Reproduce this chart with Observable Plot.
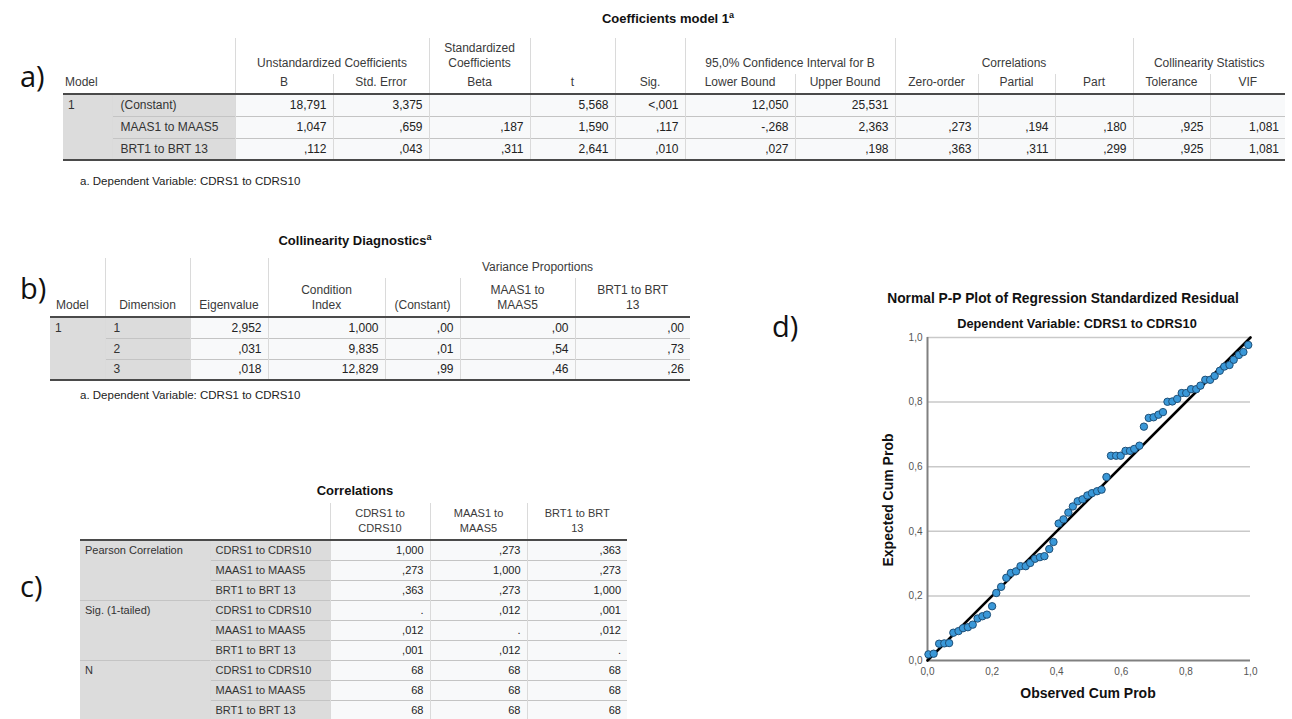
<!DOCTYPE html>
<html>
<head>
<meta charset="utf-8">
<script src="https://cdn.jsdelivr.net/npm/d3@7"></script>
<script src="https://cdn.jsdelivr.net/npm/@observablehq/plot@0.6"></script>
<style>
  html, body { margin: 0; padding: 0; background: #fff; }
  body { width: 1292px; height: 719px; position: relative; overflow: hidden;
         font-family: "Liberation Sans", Arial, sans-serif; color: #222; }
  .abs { position: absolute; white-space: nowrap; }
  .ctr { transform: translate(-50%, -50%); }
  .panel { font-family: "Open Sans", "Liberation Sans", sans-serif; font-size: 29px; color: #111; }
  .ttl { font-weight: bold; font-size: 13px; color: #111; }
  .ttl sup { font-size: 9px; }
  .foot { font-size: 11.5px; color: #222; }
  table.spss { border-collapse: collapse; table-layout: fixed; font-size: 12px; color: #222; }
  table.spss th { font-weight: normal; color: #3a3a3a; vertical-align: bottom; text-align: center;
                  padding: 0 2px 3px; border-left: 1px solid #dadada; line-height: 15px; }
  table.spss th.first { border-left: none; text-align: left; }
  table.spss td { text-align: right; padding: 0 6px; border-left: 1px solid #dadada;
                  border-top: 1px solid #c4c4c4; background: #f8f9fa; white-space: nowrap; }
  table.spss td.lab { background: #dcdcdc; text-align: left; color: #333; padding-left: 8px; }
  table.spss td.grp { background: #dcdcdc; text-align: left; vertical-align: top; border-left: none;
                      color: #333; padding-left: 5px; padding-top: 3px; }
  table.spss tbody tr.top td { border-top: 2px solid #4a4a4a; }
  table.spss tbody tr.bottom td, table.spss td.grp.last { border-bottom: 2px solid #4a4a4a; }
  table.small { font-size: 11px; }
  .plab { font-weight: bold; font-size: 14px; color: #111; }
</style>
</head>
<body>
<div id="root"></div>
<script>
// ---------- Coefficients model 1 ----------
const coefPredictors = ["(Constant)", "MAAS1 to MAAS5", "BRT1 to BRT 13"];
const coefB          = [18.791, 1.047, 0.112];
const coefStdError   = [3.375, 0.659, 0.043];
const coefBeta       = [null, 0.187, 0.311];
const coefT          = [5.568, 1.590, 2.641];
const coefSig        = ["<,001", 0.117, 0.010];
const coefLower      = [12.050, -0.268, 0.027];
const coefUpper      = [25.531, 2.363, 0.198];
const coefZeroOrder  = [null, 0.273, 0.363];
const coefPartial    = [null, 0.194, 0.311];
const coefPart       = [null, 0.180, 0.299];
const coefTolerance  = [null, 0.925, 0.925];
const coefVIF        = [null, 1.081, 1.081];

// ---------- Collinearity Diagnostics ----------
const diagDimension   = [1, 2, 3];
const diagEigenvalue  = [2.952, 0.031, 0.018];
const diagCondition   = [1.000, 9.835, 12.829];
const diagVPConstant  = [0.00, 0.01, 0.99];
const diagVPMaas      = [0.00, 0.54, 0.46];
const diagVPBrt       = [0.00, 0.73, 0.26];

// ---------- Correlations ----------
const corrVariables = ["CDRS1 to CDRS10", "MAAS1 to MAAS5", "BRT1 to BRT 13"];
const corrHeaders   = [["CDRS1 to", "CDRS10"], ["MAAS1 to", "MAAS5"], ["BRT1 to BRT", "13"]];
const corrStats     = ["Pearson Correlation", "Sig. (1-tailed)", "N"];
const corrPearson   = [[1.000, 0.273, 0.363], [0.273, 1.000, 0.273], [0.363, 0.273, 1.000]];
const corrSig       = [[".", 0.012, 0.001], [0.012, ".", 0.012], [0.001, 0.012, "."]];
const corrN         = [[68, 68, 68], [68, 68, 68], [68, 68, 68]];

// ---------- Normal P-P plot of standardized residuals ----------
const ppObserved = [0.003, 0.019, 0.036, 0.052, 0.067, 0.080, 0.096, 0.110, 0.125, 0.140,
                    0.155, 0.170, 0.184, 0.200, 0.213, 0.228, 0.244, 0.258, 0.274, 0.288,
                    0.304, 0.318, 0.333, 0.348, 0.362, 0.377, 0.390, 0.406, 0.421, 0.436,
                    0.450, 0.465, 0.480, 0.495, 0.509, 0.525, 0.539, 0.554, 0.568, 0.584,
                    0.598, 0.613, 0.627, 0.640, 0.656, 0.670, 0.685, 0.700, 0.715, 0.729,
                    0.743, 0.758, 0.773, 0.787, 0.801, 0.816, 0.832, 0.845, 0.860, 0.875,
                    0.889, 0.905, 0.919, 0.935, 0.948, 0.964, 0.978, 0.993];
const ppExpected = [0.019, 0.021, 0.052, 0.053, 0.054, 0.086, 0.091, 0.100, 0.103, 0.111,
                    0.130, 0.137, 0.142, 0.168, 0.209, 0.228, 0.256, 0.271, 0.276, 0.292,
                    0.292, 0.302, 0.315, 0.320, 0.323, 0.345, 0.367, 0.424, 0.437, 0.458,
                    0.477, 0.493, 0.499, 0.511, 0.518, 0.524, 0.529, 0.568, 0.634, 0.634,
                    0.634, 0.649, 0.649, 0.655, 0.665, 0.724, 0.751, 0.753, 0.761, 0.769,
                    0.801, 0.802, 0.810, 0.828, 0.828, 0.840, 0.840, 0.851, 0.869, 0.869,
                    0.881, 0.897, 0.910, 0.915, 0.931, 0.946, 0.955, 0.977];
const ppTicks = [0, 0.2, 0.4, 0.6, 0.8, 1.0];
const ppReference = [{observed: 0, expected: 0}, {observed: 1, expected: 1}];

// SPSS-style number text: comma decimal mark, no leading zero
const spss = (v, d = 3) => v == null ? "" : typeof v === "string" ? v
  : v.toFixed(d).replace(/^(-?)0\./, "$1.").replace(".", ",");
const tickText = v => v.toFixed(1).replace(".", ",");

const root = document.getElementById("root");
function place(html, css) {
  const el = document.createElement("div");
  el.className = "abs " + (css.cls || "");
  el.innerHTML = html;
  Object.assign(el.style, css.style || {});
  root.appendChild(el);
  return el;
}
const colgroup = ws => "<colgroup>" + ws.map(w => `<col style="width:${w}px">`).join("") + "</colgroup>";

// ---------- a) Coefficients ----------
place("a)", {cls: "panel", style: {left: "20px", top: "56px"}});
place("Coefficients model 1<sup>a</sup>", {cls: "ttl ctr", style: {left: "668px", top: "18px"}});
{
  const widths = [49, 123, 98, 96, 101, 85, 70, 110, 100, 83, 77, 78, 77, 75];
  const cols = [coefB, coefStdError, coefBeta, coefT, coefSig, coefLower, coefUpper,
                coefZeroOrder, coefPartial, coefPart, coefTolerance, coefVIF];
  let h = `<table class="spss" style="width:${d3.sum(widths)}px">` + colgroup(widths);
  h += `<thead><tr style="height:36px">
    <th class="first" colspan="2" rowspan="2" style="padding-left:2px">Model</th>
    <th colspan="2">Unstandardized Coefficients</th>
    <th>Standardized<br>Coefficients</th>
    <th rowspan="2">t</th><th rowspan="2">Sig.</th>
    <th colspan="2">95,0% Confidence Interval for B</th>
    <th colspan="3">Correlations</th>
    <th colspan="2">Collinearity Statistics</th></tr>
    <tr style="height:20px"><th>B</th><th>Std. Error</th><th>Beta</th><th>Lower Bound</th><th>Upper Bound</th>
    <th>Zero-order</th><th>Partial</th><th>Part</th><th>Tolerance</th><th>VIF</th></tr></thead><tbody>`;
  coefPredictors.forEach((p, i) => {
    const cls = i === 0 ? "top" : i === coefPredictors.length - 1 ? "bottom" : "";
    h += `<tr class="${cls}" style="height:22px">`;
    if (i === 0) h += `<td class="grp last" rowspan="${coefPredictors.length}">1</td>`;
    h += `<td class="lab">${p}</td>` + cols.map(c => `<td>${spss(c[i])}</td>`).join("") + "</tr>";
  });
  h += "</tbody></table>";
  place(h, {style: {left: "63px", top: "38px"}});
  place("a. Dependent Variable: CDRS1 to CDRS10", {cls: "foot", style: {left: "80px", top: "175px"}});
}

// ---------- b) Collinearity Diagnostics ----------
place("b)", {cls: "panel", style: {left: "20px", top: "268px"}});
place("Collinearity Diagnostics<sup>a</sup>", {cls: "ttl ctr", style: {left: "355px", top: "240px"}});
{
  const widths = [55, 85, 78, 117, 75, 115, 115];
  let h = `<table class="spss" style="width:${d3.sum(widths)}px">` + colgroup(widths);
  h += `<thead><tr style="height:20px">
    <th class="first" rowspan="2" style="padding-left:6px">Model</th>
    <th rowspan="2">Dimension</th><th rowspan="2">Eigenvalue</th>
    <th rowspan="2">Condition<br>Index</th>
    <th colspan="3" style="border-left:none">Variance Proportions</th></tr>
    <tr style="height:39px"><th>(Constant)</th><th>MAAS1 to<br>MAAS5</th><th>BRT1 to BRT<br>13</th></tr></thead><tbody>`;
  diagDimension.forEach((dim, i) => {
    const cls = i === 0 ? "top" : i === diagDimension.length - 1 ? "bottom" : "";
    h += `<tr class="${cls}" style="height:21px">`;
    if (i === 0) h += `<td class="grp last" rowspan="${diagDimension.length}">1</td>`;
    h += `<td class="lab">${dim}</td><td>${spss(diagEigenvalue[i])}</td><td>${spss(diagCondition[i])}</td>
      <td>${spss(diagVPConstant[i], 2)}</td><td>${spss(diagVPMaas[i], 2)}</td><td>${spss(diagVPBrt[i], 2)}</td></tr>`;
  });
  h += "</tbody></table>";
  place(h, {style: {left: "50px", top: "258px"}});
  place("a. Dependent Variable: CDRS1 to CDRS10", {cls: "foot", style: {left: "80px", top: "389px"}});
}

// ---------- c) Correlations ----------
place("c)", {cls: "panel", style: {left: "20px", top: "566px"}});
place("Correlations", {cls: "ttl ctr", style: {left: "355px", top: "490px"}});
{
  const widths = [130, 120, 100, 97, 100];
  const blocks = [corrPearson, corrSig, corrN];
  let h = `<table class="spss small" style="width:${d3.sum(widths)}px">` + colgroup(widths);
  h += `<thead><tr style="height:37px"><th class="first" colspan="2"></th>` +
    corrHeaders.map(v => `<th>${v.join("<br>")}</th>`).join("") + `</tr></thead><tbody>`;
  blocks.forEach((block, b) => {
    corrVariables.forEach((v, i) => {
      const cls = (b === 0 && i === 0) ? "top" : "";
      h += `<tr class="${cls}" style="height:20px">`;
      if (i === 0) h += `<td class="grp" rowspan="3">${corrStats[b]}</td>`;
      h += `<td class="lab" style="padding-left:5px">${v}</td>` +
        block[i].map(x => `<td>${b === 2 ? String(x) : spss(x)}</td>`).join("") + "</tr>";
    });
  });
  h += "</tbody></table>";
  place(h, {style: {left: "80px", top: "503px"}});
}

// ---------- d) Normal P-P Plot ----------
place("d)", {cls: "panel", style: {left: "772px", top: "306px"}});
place("Normal P-P Plot of Regression Standardized Residual", {cls: "plab ctr", style: {left: "1063px", top: "298px", fontSize: "13.8px"}});
place("Dependent Variable: CDRS1 to CDRS10", {cls: "plab ctr", style: {left: "1077px", top: "323px", fontSize: "12.8px"}});
place("Expected Cum Prob", {cls: "plab", style: {left: "888px", top: "500px", transform: "translate(-50%,-50%) rotate(-90deg)"}});
place("Observed Cum Prob", {cls: "plab ctr", style: {left: "1088px", top: "693px"}});
{
  const points = ppObserved.map((o, i) => ({observed: o, expected: ppExpected[i]}));
  const chart = Plot.plot({
    width: 410, height: 425,
    marginLeft: 57, marginTop: 52, marginRight: 30, marginBottom: 50,
    x: {domain: [0, 1]},
    y: {domain: [0, 1]},
    style: {fontFamily: "'Liberation Sans', Arial, sans-serif", fontSize: "10px", color: "#555",
            background: "transparent", overflow: "visible"},
    marks: [
      Plot.gridY(ppTicks.slice(1), {stroke: "#c9c9c9", strokeOpacity: 1, strokeWidth: 1.5}),
      Plot.ruleX([0], {stroke: "#808080", strokeWidth: 2}),
      Plot.ruleY([0], {stroke: "#808080", strokeWidth: 2}),
      Plot.axisX({ticks: ppTicks, tickFormat: tickText, tickSize: 0, tickPadding: 7, label: null}),
      Plot.axisY({ticks: ppTicks, tickFormat: tickText, tickSize: 0, tickPadding: 5, label: null}),
      Plot.line(ppReference, {x: "observed", y: "expected", stroke: "#000", strokeWidth: 2.6}),
      Plot.dot(points, {x: "observed", y: "expected", r: 3.7, fill: "#3a98d8", stroke: "#1e4f77", strokeWidth: 1})
    ]
  });
  const holder = place("", {style: {left: "870px", top: "285px"}});
  holder.appendChild(chart);
}
</script>
</body>
</html>
